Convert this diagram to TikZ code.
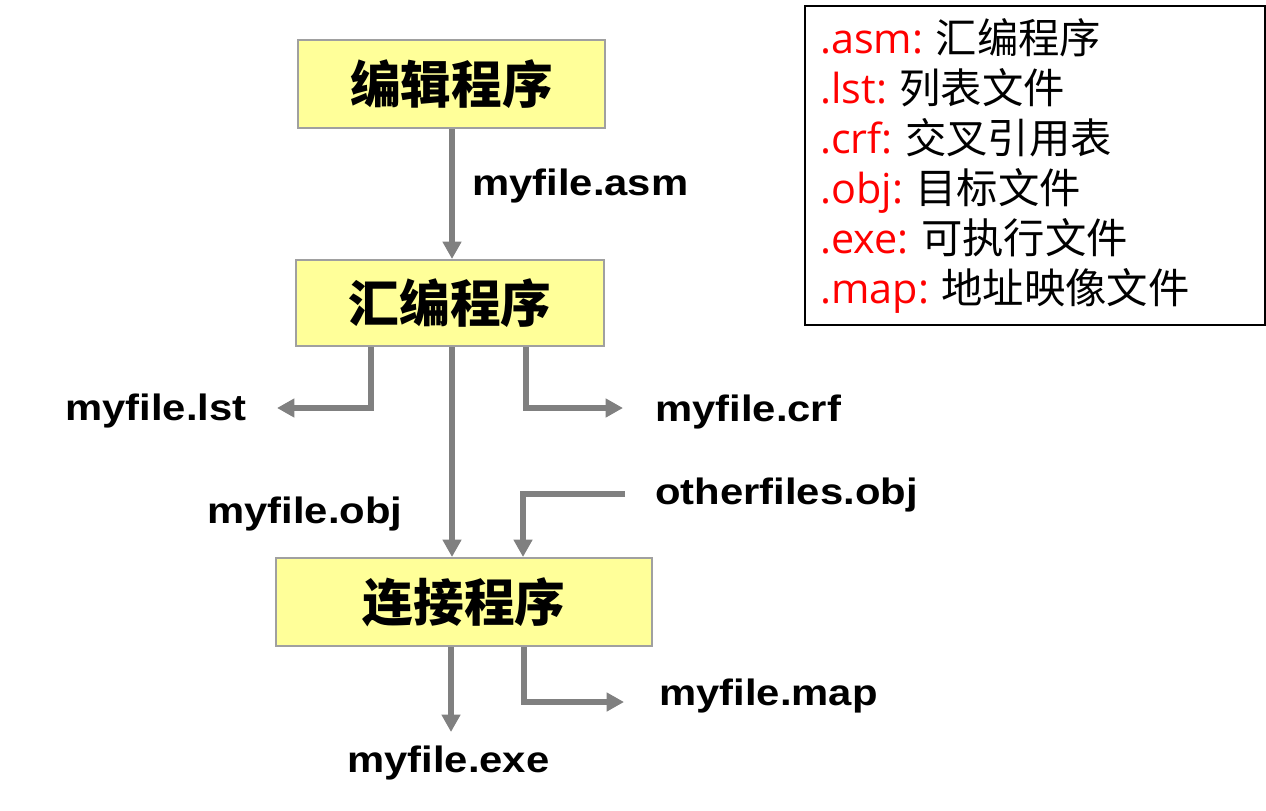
\documentclass[tikz,border=0pt]{standalone}
\usepackage{fontspec}
\setmainfont{Liberation Sans}
\newfontfamily\cjk{Noto Sans CJK SC}
\newfontfamily\cjkheavy{Noto Sans CJK SC Black}
\newfontfamily\lat{Open Sans}
\usetikzlibrary{arrows.meta}
\definecolor{boxfill}{HTML}{FFFF99}
\definecolor{boxline}{HTML}{A0A0A0}
\definecolor{arrowgray}{HTML}{808080}
\definecolor{legred}{HTML}{FF0000}
\newcommand{\flab}[1]{\scalebox{1.14}[1]{\bfseries #1}}
\newcommand{\legitem}[2]{\textcolor{legred}{\lat #1}\hspace{0.3em}{\cjk #2}}
\begin{document}
\begin{tikzpicture}[x=0.75pt, y=-0.75pt,
  proc/.style={draw=boxline, line width=1.5pt, fill=boxfill, inner sep=0pt,
    font=\cjkheavy\fontsize{38}{40}\selectfont},
  flow/.style={draw=arrowgray, line width=3.9pt,
    -{Triangle[width=13.5pt,length=13pt]}},
  lbl/.style={anchor=base west, inner sep=0pt, font=\fontsize{27.5}{30}\selectfont},
  leg/.style={anchor=base west, inner sep=0pt, font=\fontsize{31}{32}\selectfont},
  legbox/.style={draw=black, line width=1.1pt, inner sep=0pt}]
\useasboundingbox (0,0) rectangle (1266,810);

% boxes
\node[proc, minimum width=230pt, minimum height=66pt] (b1) at (451.5,84) {编辑程序};
\node[proc, minimum width=231pt, minimum height=64.5pt] (b2) at (450,303) {汇编程序};
\node[proc, minimum width=282pt, minimum height=66pt] (b3) at (464,602) {连接程序};

% labels
\node[lbl] (asm) at (472,195) {\flab{myfile.asm}};
\node[lbl] (lst) at (65,420) {\flab{myfile.lst}};
\node[lbl] (crf) at (655,421) {\flab{myfile.crf}};
\node[lbl] (obj) at (207,523) {\flab{myfile.obj}};
\node[lbl] (oth) at (655,504) {\flab{otherfiles.obj}};
\node[lbl] (map) at (659,705) {\flab{myfile.map}};
\node[lbl] (exe) at (347,772) {\flab{myfile.exe}};

% helper coordinates
\coordinate (lstc) at (371,408);
\coordinate (lsttip) at (277,408);
\coordinate (crfc) at (526,408);
\coordinate (crftip) at (623,408);
\coordinate (objx) at (452,450);
\coordinate (othstart) at (625,494);
\coordinate (othc) at (523,494);
\coordinate (exetip) at (451,732);
\coordinate (mapc) at (524,702);
\coordinate (maptip) at (624,702);

% connectors
\draw[flow] (b1.south -| objx) -- (b2.north -| objx);
\draw[flow] (b2.south -| lstc) -- (lstc) -- (lsttip);
\draw[flow] (b2.south -| crfc) -- (crfc) -- (crftip);
\draw[flow] (b2.south -| objx) -- (b3.north -| objx);
\draw[flow] (othstart) -- (othc) -- (b3.north -| othc);
\draw[flow] (b3.south -| exetip) -- (exetip);
\draw[flow] (b3.south -| mapc) -- (mapc) -- (maptip);

% legend
\node[legbox, minimum width=345pt, minimum height=239.25pt] (legend) at (1035,165.5) {};
\node[leg] (l1) at (820,53) {\legitem{.asm:}{汇编程序}};
\node[leg] (l2) at (820,103) {\legitem{.lst:}{列表文件}};
\node[leg] (l3) at (820,153) {\legitem{.crf:}{交叉引用表}};
\node[leg] (l4) at (820,203) {\legitem{.obj:}{目标文件}};
\node[leg] (l5) at (820,253) {\legitem{.exe:}{可执行文件}};
\node[leg] (l6) at (820,303) {\legitem{.map:}{地址映像文件}};
\end{tikzpicture}
\end{document}
